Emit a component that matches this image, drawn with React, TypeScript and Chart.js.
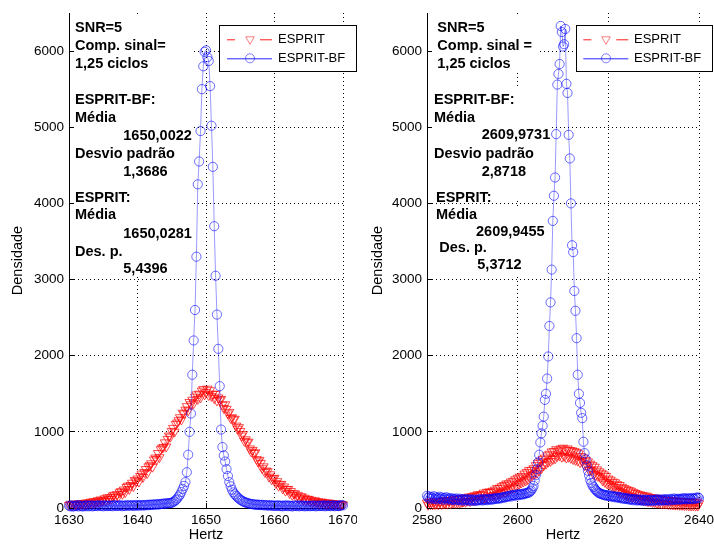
import React, { useEffect, useRef } from "react";
import { Chart, registerables } from "chart.js";

Chart.register(...registerables);

const FONT = "'Liberation Sans', Arial, Helvetica, sans-serif";

// ---------------- data ----------------
const SERIES_LABELS = ["ESPRIT", "ESPRIT-BF"];
const Y_MIN = 0;
const Y_MAX = 6500;
const Y_TICKS = [0, 1000, 2000, 3000, 4000, 5000, 6000];
const X_TITLE = "Hertz";
const Y_TITLE = "Densidade";

// left panel: histogram bins 1630..1670, width 0.2 Hz
const LEFT_X_MIN = 1630;
const LEFT_X_MAX = 1670;
const LEFT_X_TICKS = [1630, 1640, 1650, 1660, 1670];
const LEFT_BIN_START = 1630;
const LEFT_BIN_STEP = 0.2;
const leftEsprit = [
  38, 52, 30, 55, 41, 50, 36, 60, 40, 58, 62, 44, 68, 50, 72, 66, 82, 58, 88, 70,
  84, 100, 74, 110, 92, 104, 125, 92, 138, 115, 140, 118, 162, 172, 140, 180, 150, 205, 220, 185,
  240, 205, 275, 290, 248, 300, 330, 285, 365, 350, 385, 345, 420, 450, 405, 470, 510, 455, 545, 560,
  585, 540, 635, 660, 640, 720, 665, 770, 790, 800, 860, 805, 905, 950, 935, 1010, 1050, 1000, 1100, 1120,
  1150, 1190, 1160, 1250, 1240, 1290, 1335, 1280, 1390, 1360, 1420, 1375, 1460, 1490, 1430, 1500, 1450, 1540, 1560, 1490,
  1520, 1565, 1480, 1545, 1470, 1500, 1440, 1495, 1410, 1450, 1420, 1430, 1355, 1310, 1360, 1300, 1240, 1260, 1180, 1190,
  1160, 1170, 1080, 1040, 1060, 1010, 950, 970, 880, 900, 860, 870, 780, 740, 760, 720, 730, 640, 610, 630,
  590, 520, 545, 470, 490, 480, 410, 440, 375, 390, 395, 325, 350, 290, 310, 315, 255, 280, 225, 248,
  248, 195, 220, 170, 190, 190, 145, 170, 125, 150, 150, 110, 132, 95, 118, 118, 84, 105, 75, 96,
  96, 66, 86, 60, 80, 80, 54, 72, 48, 68, 68, 44, 62, 40, 58, 58, 36, 52, 34, 48,
  45,
];
const leftEspritBF = [
  30, 22, 35, 18, 28, 25, 40, 20, 33, 26, 19, 31, 24, 37, 22, 28, 35, 21, 30, 26,
  33, 24, 38, 27, 31, 22, 36, 29, 25, 34, 27, 32, 23, 38, 30, 26, 34, 29, 36, 24,
  31, 28, 37, 30, 35, 29, 38, 33, 27, 40, 34, 30, 39, 36, 32, 38, 35, 42, 37, 44,
  40, 46, 43, 48, 45, 50, 47, 53, 56, 55, 58, 60, 63, 62, 66, 68, 78, 90, 105, 125,
  150, 175, 210, 250, 290, 340, 470, 700, 1000, 1240, 1750, 2200, 2600, 3300, 4250, 4550, 4950, 5500, 5800, 5990,
  6010, 5920, 5870, 5540, 5020, 4480, 3700, 3050, 2540, 2090, 1600, 1030, 800, 690, 610, 510, 420, 340, 285, 240,
  205, 180, 160, 140, 125, 110, 98, 88, 78, 72, 66, 60, 56, 52, 50, 47, 44, 42, 45, 40,
  38, 42, 35, 39, 33, 36, 30, 38, 32, 28, 34, 27, 31, 36, 25, 30, 22, 33, 28, 35,
  24, 31, 27, 20, 33, 29, 25, 36, 22, 30, 27, 34, 21, 29, 25, 32, 23, 30, 26, 35,
  21, 28, 33, 25, 30, 26, 35, 22, 31, 27, 33, 24, 29, 36, 23, 28, 32, 25, 30, 38,
  35,
];

// right panel: histogram bins 2580..2640, width 0.25 Hz
const RIGHT_X_MIN = 2580;
const RIGHT_X_MAX = 2640;
const RIGHT_X_TICKS = [2580, 2600, 2620, 2640];
const RIGHT_BIN_START = 2580;
const RIGHT_BIN_STEP = 0.25;
const rightEsprit = [
  70, 40, 82, 48, 78, 45, 88, 50, 55, 90, 46, 80, 88, 50, 98, 58, 62, 102, 55, 95,
  95, 60, 110, 70, 110, 65, 120, 72, 118, 70, 130, 78, 85, 135, 80, 130, 95, 148, 88, 140,
  155, 95, 165, 105, 160, 180, 110, 170, 180, 120, 200, 135, 135, 210, 125, 215, 210, 150, 225, 170,
  240, 160, 260, 185, 265, 195, 285, 215, 300, 210, 320, 230, 320, 245, 345, 265, 355, 270, 375, 285,
  395, 310, 410, 330, 420, 345, 450, 360, 470, 375, 495, 400, 500, 430, 520, 450, 560, 460, 590, 490,
  610, 520, 640, 560, 660, 580, 690, 605, 710, 615, 740, 640, 745, 650, 770, 680, 755, 690, 780, 670,
  790, 680, 765, 660, 780, 670, 760, 655, 755, 640, 745, 630, 735, 620, 715, 600, 680, 615, 660, 560,
  630, 560, 610, 500, 580, 500, 560, 445, 540, 430, 505, 420, 480, 400, 460, 360, 440, 340, 420, 320,
  385, 310, 370, 290, 345, 275, 335, 240, 310, 220, 300, 205, 275, 200, 260, 180, 245, 165, 235, 150,
  225, 145, 210, 135, 195, 130, 185, 115, 175, 110, 170, 100, 160, 95, 160, 85, 145, 85, 140, 75,
  130, 75, 135, 65, 120, 65, 125, 55, 110, 60, 105, 55, 100, 50, 105, 48, 95, 45, 100, 42,
  90, 42, 95, 40, 85, 38, 90, 36, 82, 34, 88, 32, 78, 30, 85, 32, 76, 28, 82, 30,
  60,
];
const rightEspritBF = [
  160, 135, 150, 120, 145, 128, 155, 118, 140, 112, 132, 148, 120, 138, 108, 130, 125, 142, 110, 128,
  115, 130, 105, 122, 118, 100, 126, 110, 104, 122, 98, 115, 112, 96, 118, 105, 100, 115, 94, 110,
  108, 92, 112, 100, 95, 110, 102, 118, 105, 98, 115, 108, 112, 102, 120, 110, 118, 108, 125, 115,
  122, 135, 118, 128, 132, 125, 140, 136, 145, 138, 152, 148, 155, 162, 150, 168, 165, 172, 160, 178,
  175, 168, 182, 176, 185, 178, 192, 188, 195, 205, 200, 218, 230, 260, 290, 360, 430, 510, 600, 700,
  860, 980, 1080, 1200, 1420, 1500, 1700, 1990, 2390, 2700, 3130, 3770, 4100, 4340, 4910, 5560, 5700, 5830, 6330, 6250,
  6060, 6090, 6290, 5570, 5450, 4900, 4590, 4000, 3450, 3360, 2850, 2590, 2230, 1750, 1500, 1380, 1250, 1180, 870, 720,
  640, 560, 490, 430, 370, 330, 295, 275, 250, 235, 220, 205, 195, 190, 182, 178, 172, 168, 162, 170,
  158, 165, 150, 160, 148, 155, 140, 150, 138, 145, 130, 142, 125, 135, 120, 130, 118, 128, 112, 122,
  108, 118, 102, 115, 110, 98, 112, 104, 100, 112, 95, 108, 98, 110, 92, 105, 102, 95, 112, 98,
  95, 108, 100, 115, 104, 96, 112, 100, 110, 98, 118, 105, 102, 115, 98, 120, 112, 105, 125, 110,
  118, 108, 122, 115, 110, 125, 115, 130, 120, 112, 128, 118, 125, 115, 132, 122, 118, 135, 125, 140,
  130,
];

const LEFT_NOTES = [
  "SNR=5", "Comp. sinal=", "1,25 ciclos",
  "ESPRIT-BF:", "Média", "1650,0022", "Desvio padrão", "1,3686",
  "ESPRIT:", "Média", "1650,0281", "Des. p.", "5,4396",
];
const RIGHT_NOTES = [
  "SNR=5", "Comp. sinal =", "1,25 ciclos",
  "ESPRIT-BF:", "Média", "2609,9731", "Desvio padrão", "2,8718",
  "ESPRIT:", "Média", "2609,9455", "Des. p.", "5,3712",
];

// ---------------- layout ----------------
type Rect = [number, number, number, number];
interface LegendLayout {
  x: number; y: number; w: number; h: number;
  row1: number; row2: number; lineX1: number; lineX2: number; markX: number; textX: number;
}
interface PanelCfg {
  left: number;
  xMin: number; xMax: number; xTicks: number[];
  binStart: number; binStep: number;
  esprit: number[]; espritBF: number[];
  notes: string[]; notePos: [number, number][];
  boxes: Rect[];
  legend: LegendLayout;
  yAxisWidth: number; padRight: number; yTitlePad: number;
}

const LEFT_PANEL: PanelCfg = {
  left: 0,
  xMin: LEFT_X_MIN, xMax: LEFT_X_MAX, xTicks: LEFT_X_TICKS,
  binStart: LEFT_BIN_START, binStep: LEFT_BIN_STEP,
  esprit: leftEsprit, espritBF: leftEspritBF,
  notes: LEFT_NOTES,
  notePos: [
    [75, 31.7], [75, 50], [75, 67.7],
    [75, 104.3], [75, 122.3], [123.3, 140], [75, 157.7], [123.3, 175.7],
    [75, 201.7], [75, 219], [123.3, 237.7], [75, 256], [123.3, 273.3],
  ],
  boxes: [[71, 16, 194, 277]],
  legend: { x: 219, y: 25, w: 137, h: 46, row1: 39.3, row2: 58.3, lineX1: 227, lineX2: 272, markX: 250, textX: 278 },
  yAxisWidth: 69, padRight: 14, yTitlePad: 9.3,
};

const RIGHT_PANEL: PanelCfg = {
  left: 357,
  xMin: RIGHT_X_MIN, xMax: RIGHT_X_MAX, xTicks: RIGHT_X_TICKS,
  binStart: RIGHT_BIN_START, binStep: RIGHT_BIN_STEP,
  esprit: rightEsprit, espritBF: rightEspritBF,
  notes: RIGHT_NOTES,
  notePos: [
    [80.3, 32.3], [80.3, 50], [80.3, 68.3],
    [77, 104], [77, 122], [124.7, 139.3], [77, 157.7], [124.7, 175.7],
    [79, 201.7], [79, 219], [119, 235.5], [82.3, 252], [120.3, 268.5],
  ],
  boxes: [[74, 16, 183, 72], [74, 87, 193, 201], [74, 206, 193, 277]],
  legend: { x: 219, y: 25, w: 136, h: 46, row1: 39.3, row2: 58.3, lineX1: 226.3, lineX2: 271.3, markX: 249, textX: 277 },
  yAxisWidth: 70, padRight: 15, yTitlePad: 12.3,
};

const RED_MARK = "rgba(255,0,0,0.7)";
const RED_LINE = "rgba(255,0,0,0.55)";
const BLUE_MARK = "rgba(0,0,255,0.58)";
const BLUE_LINE = "rgba(0,0,255,0.4)";
const GRID_COLOR = "#000";
const GRID_DASH = [1, 3];

function toPoints(start: number, step: number, values: number[]) {
  return values.map((y, i) => ({ x: start + i * step, y }));
}

function drawTriangleDown(ctx: CanvasRenderingContext2D, x: number, y: number, r: number) {
  ctx.beginPath();
  for (let k = 0; k < 3; k++) {
    const a = Math.PI + (k * 2 * Math.PI) / 3;
    const px = x + Math.sin(a) * r;
    const py = y - Math.cos(a) * r;
    if (k === 0) ctx.moveTo(px, py);
    else ctx.lineTo(px, py);
  }
  ctx.closePath();
  ctx.stroke();
}

function makeOverlay(cfg: PanelCfg) {
  return {
    id: "overlay",
    beforeDatasetsDraw(chart: any) {
      const ctx: CanvasRenderingContext2D = chart.ctx;
      ctx.save();
      ctx.fillStyle = "#fff";
      for (const b of cfg.boxes) ctx.fillRect(b[0], b[1], b[2] - b[0], b[3] - b[1]);
      ctx.fillStyle = "#000";
      ctx.font = `bold 14.5px ${FONT}`;
      ctx.textAlign = "left";
      ctx.textBaseline = "alphabetic";
      cfg.notes.forEach((t, i) => ctx.fillText(t, cfg.notePos[i][0], cfg.notePos[i][1]));
      ctx.restore();
    },
    afterDatasetsDraw(chart: any) {
      const ctx: CanvasRenderingContext2D = chart.ctx;
      const area = chart.chartArea;
      const xs = chart.scales.x;
      const ys = chart.scales.y;
      ctx.save();
      // inward tick marks
      ctx.strokeStyle = "#000";
      ctx.lineWidth = 1;
      ctx.setLineDash([]);
      ctx.beginPath();
      for (const v of Y_TICKS) {
        const y = Math.round(ys.getPixelForValue(v) - 0.5) + 0.5;
        ctx.moveTo(area.left, y);
        ctx.lineTo(area.left + 5, y);
      }
      for (const v of cfg.xTicks) {
        const x = Math.round(xs.getPixelForValue(v) - 0.5) + 0.5;
        ctx.moveTo(x, area.bottom);
        ctx.lineTo(x, area.bottom - 5);
      }
      ctx.stroke();

      // legend
      const L = cfg.legend;
      ctx.fillStyle = "#fff";
      ctx.fillRect(L.x, L.y, L.w, L.h);
      ctx.strokeStyle = "#000";
      ctx.strokeRect(L.x + 0.5, L.y + 0.5, L.w, L.h);

      // row 1: red dashed + down triangle
      ctx.strokeStyle = "rgba(255,0,0,0.9)";
      ctx.beginPath();
      ctx.moveTo(L.lineX1, L.row1 + 0.5);
      ctx.lineTo(L.lineX1 + 8, L.row1 + 0.5);
      ctx.moveTo(L.lineX1 + 33, L.row1 + 0.5);
      ctx.lineTo(L.lineX2, L.row1 + 0.5);
      ctx.stroke();
      ctx.strokeStyle = "rgba(255,0,0,0.5)";
      drawTriangleDown(ctx, L.markX, L.row1, 5);

      // row 2: blue solid + circle
      ctx.strokeStyle = "rgba(0,0,255,0.85)";
      ctx.beginPath();
      ctx.moveTo(L.lineX1, L.row2 + 0.5);
      ctx.lineTo(L.lineX2, L.row2 + 0.5);
      ctx.stroke();
      ctx.strokeStyle = "rgba(0,0,255,0.5)";
      ctx.beginPath();
      ctx.arc(L.markX, L.row2, 4.5, 0, Math.PI * 2);
      ctx.stroke();

      ctx.fillStyle = "#000";
      ctx.font = `13px ${FONT}`;
      ctx.textAlign = "left";
      ctx.textBaseline = "middle";
      const labels = chart.data.datasets.map((d: any) => d.label);
      ctx.fillText(labels[0], L.textX, L.row1);
      ctx.fillText(labels[1], L.textX, L.row2);
      ctx.restore();
    },
  };
}

function Panel({ cfg }: { cfg: PanelCfg }) {
  const ref = useRef<HTMLCanvasElement | null>(null);
  useEffect(() => {
    if (!ref.current) return;
    const chart = new Chart(ref.current, {
      type: "line",
      data: {
        datasets: [
          {
            label: SERIES_LABELS[0],
            data: toPoints(cfg.binStart, cfg.binStep, cfg.esprit),
            borderColor: RED_LINE,
            borderWidth: 1,
            borderDash: [6, 4],
            pointStyle: "triangle",
            pointRotation: 180,
            pointRadius: 5.3,
            pointBorderColor: RED_MARK,
            pointBackgroundColor: "rgba(0,0,0,0)",
            pointBorderWidth: 1,
            fill: false,
            tension: 0,
            order: 2,
            clip: false,
          } as any,
          {
            label: SERIES_LABELS[1],
            data: toPoints(cfg.binStart, cfg.binStep, cfg.espritBF),
            borderColor: BLUE_LINE,
            borderWidth: 1,
            pointStyle: "circle",
            pointRadius: 4.6,
            pointBorderColor: BLUE_MARK,
            pointBackgroundColor: "rgba(0,0,0,0)",
            pointBorderWidth: 1,
            fill: false,
            tension: 0,
            order: 1,
            clip: false,
          } as any,
        ],
      },
      options: {
        animation: false,
        responsive: false,
        events: [],
        layout: { padding: { left: 0, right: cfg.padRight, top: 13, bottom: 0 } },
        plugins: { legend: { display: false }, tooltip: { enabled: false } },
        scales: {
          x: {
            type: "linear",
            min: cfg.xMin,
            max: cfg.xMax,
            afterBuildTicks: (s: any) => {
              s.ticks = cfg.xTicks.map((v) => ({ value: v }));
            },
            afterFit: (s: any) => {
              s.height = 36;
              s.paddingLeft = 0;
              s.paddingRight = 0;
            },
            ticks: {
              callback: (v: any) => String(v),
              font: { family: FONT, size: 13.5 },
              color: "#000",
              padding: 4,
              maxRotation: 0,
              autoSkip: false,
            },
            grid: { color: GRID_COLOR, lineWidth: 1, drawTicks: false },
            border: { display: true, color: "#000", width: 1, dash: GRID_DASH },
            title: {
              display: true,
              text: X_TITLE,
              font: { family: FONT, size: 14.5 },
              color: "#000",
              padding: { top: -1.7, bottom: 0 },
            },
          },
          y: {
            type: "linear",
            min: Y_MIN,
            max: Y_MAX,
            afterBuildTicks: (s: any) => {
              s.ticks = Y_TICKS.map((v) => ({ value: v }));
            },
            afterFit: (s: any) => {
              s.width = cfg.yAxisWidth;
              s.paddingTop = 0;
              s.paddingBottom = 0;
            },
            ticks: {
              callback: (v: any) => String(v),
              font: { family: FONT, size: 13.5 },
              color: "#000",
              padding: 5,
            },
            grid: { color: GRID_COLOR, lineWidth: 1, drawTicks: false },
            border: { display: true, color: "#000", width: 1, dash: GRID_DASH },
            title: {
              display: true,
              text: Y_TITLE,
              font: { family: FONT, size: 14.5 },
              color: "#000",
              padding: { top: cfg.yTitlePad, bottom: 0 },
            },
          },
        },
      } as any,
      plugins: [makeOverlay(cfg)],
    });
    return () => chart.destroy();
  }, [cfg]);
  return (
    <canvas
      ref={ref}
      width={357}
      height={544}
      style={{ position: "absolute", left: cfg.left, top: 0, width: 357, height: 544 }}
    />
  );
}

export default function App() {
  return (
    <div style={{ position: "absolute", left: 0, top: 0, width: 714, height: 544, background: "#fff", overflow: "hidden" }}>
      <Panel cfg={LEFT_PANEL} />
      <Panel cfg={RIGHT_PANEL} />
    </div>
  );
}
